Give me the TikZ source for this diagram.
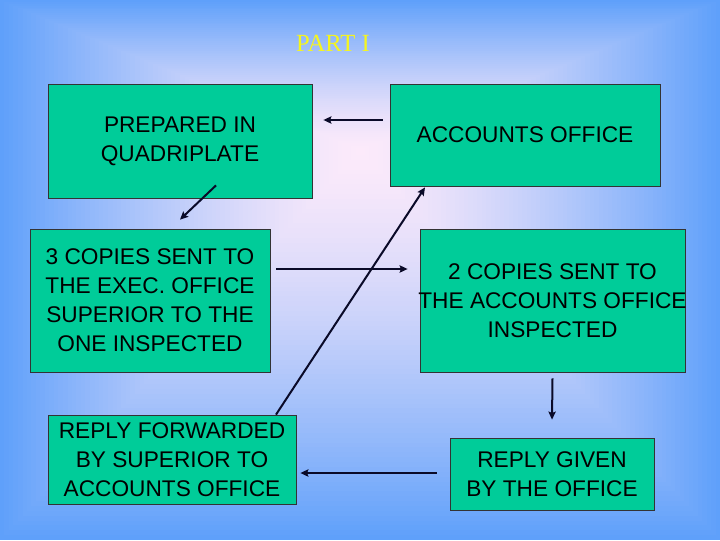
\documentclass[tikz,border=0pt]{standalone}
\usepackage{fontspec}
\setmainfont{Liberation Serif}
\newfontfamily\boxfont{Liberation Sans}
\usetikzlibrary{arrows.meta,calc}
\definecolor{bgblue}{RGB}{95,160,250}
\definecolor{bgpink}{RGB}{252,234,250}
\definecolor{boxgreen}{RGB}{0,204,153}
\definecolor{titleyellow}{RGB}{245,245,30}
\definecolor{arrowcol}{RGB}{10,10,40}
\begin{document}
\begin{tikzpicture}[x=0.75pt,y=-0.75pt,
  box/.style={draw=black!80, line width=0.6pt, fill=boxgreen, rectangle, inner sep=0pt, align=center, font=\boxfont\fontsize{17}{21.75}\selectfont},
  arr/.style={-{Stealth[length=6pt,width=5.5pt,inset=1pt]}, line width=1.5pt, draw=arrowcol}]
\useasboundingbox (0,0) rectangle (720,540);
% rectangular gradient from centre (360,150)
\foreach \i in {0,...,79}{
  \pgfmathsetmacro{\t}{\i/80}
  \pgfmathsetmacro{\p}{100*(1-(1-\t)^1.4)}
  \pgfmathsetmacro{\xa}{360*\t}
  \pgfmathsetmacro{\xb}{720-360*\t}
  \pgfmathsetmacro{\ya}{150*\t}
  \pgfmathsetmacro{\yb}{540-390*\t}
  \fill[bgpink!\p!bgblue] (\xa,\ya) rectangle (\xb,\yb);
}

\node[text=titleyellow, font=\fontsize{18.5}{21}\selectfont] (title) at (333,43) {PART I};

\node[box, minimum width=198pt, minimum height=85.5pt] (b1) at (180,141) {PREPARED IN\\QUADRIPLATE};
\node[box, minimum width=202.5pt, minimum height=76.5pt] (b2) at (525,135) {ACCOUNTS OFFICE};
\node[box, minimum width=180pt, minimum height=107.25pt] (b3) at (150,300.5) {3 COPIES SENT TO\\THE EXEC. OFFICE\\SUPERIOR TO THE\\ONE INSPECTED};
\node[box, minimum width=198.75pt, minimum height=107.25pt] (b4) at (552.5,300.5) {2 COPIES SENT TO\\\makebox[0pt]{THE ACCOUNTS OFFICE}\\INSPECTED};
\node[box, minimum width=186pt, minimum height=66.75pt] (b5) at (172,459.5) {REPLY FORWARDED\\BY SUPERIOR TO\\ACCOUNTS OFFICE};
\node[box, minimum width=153pt, minimum height=54pt] (b6) at (552,474) {REPLY GIVEN\\BY THE OFFICE};

\draw[arr] ($(b2.west)+(-7,-15)$) -- ($(b1.east)+(11,-21)$);
\draw[arr] ($(b1.south)+(36,-13)$) -- ($(b3.north)+(30,-9)$);
\draw[arr] ($(b3.east)+(6,-31.5)$) -- ($(b4.west)+(-12,-31.5)$);
\draw[arr] ($(b5.north)+(104,0)$) -- ($(b2.south)+(-100,1)$);
\draw[arr] ($(b4.south)+(0,6)$) -- ($(b6.north)+(0,-18)$);
\draw[arr] ($(b6.west)+(-13,-1)$) -- ($(b5.east)+(4,13.5)$);
\end{tikzpicture}
\end{document}
